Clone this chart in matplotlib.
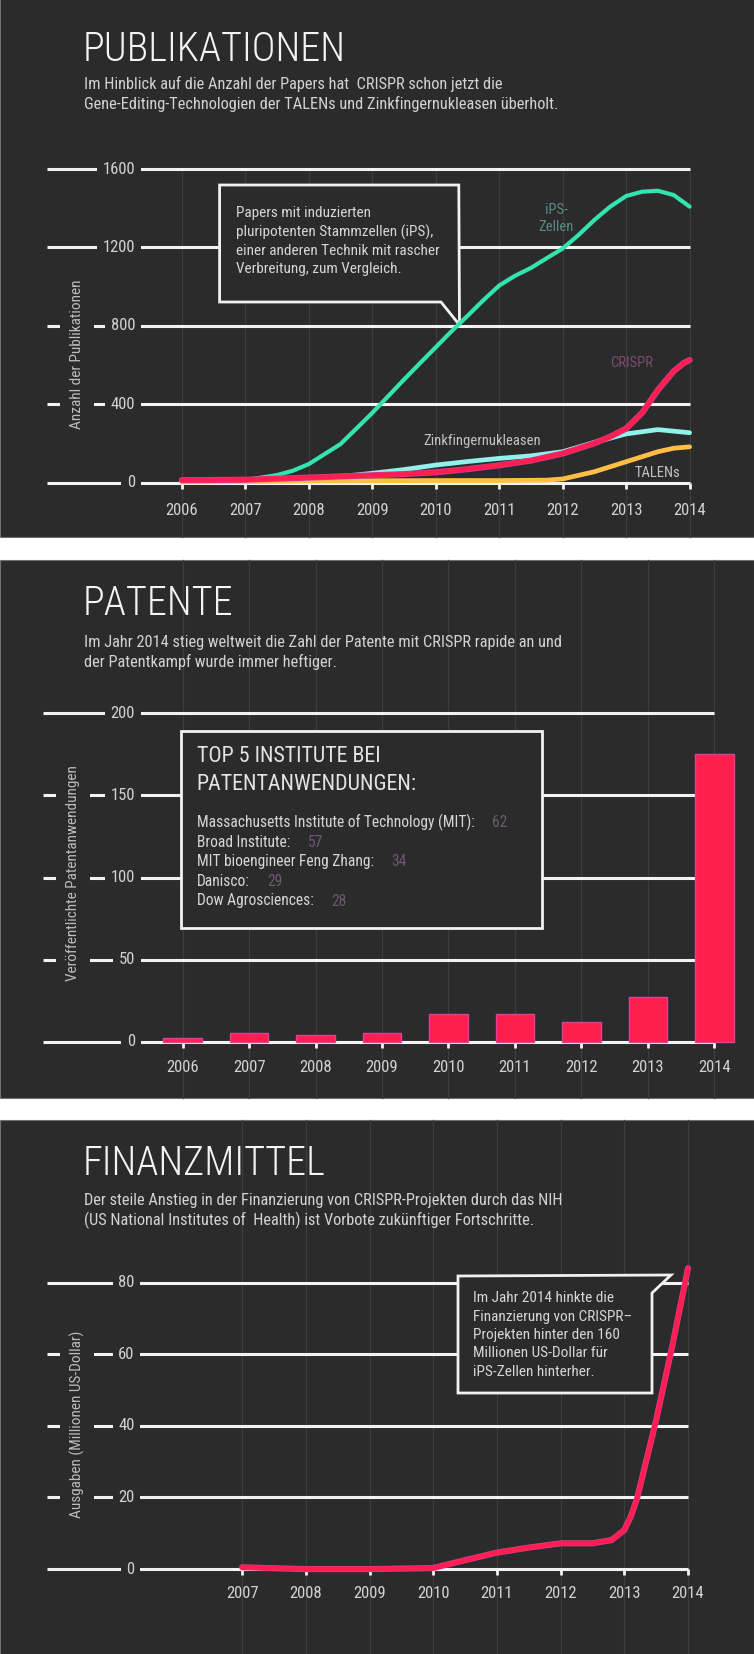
import matplotlib
matplotlib.use("Agg")
import matplotlib.pyplot as plt
from matplotlib.patches import Rectangle, Polygon
from matplotlib import font_manager

# ---- data ----
pub_ips_years = [2006, 2007, 2007.5, 2007.75, 2008, 2008.5, 2008.75, 2009, 2009.25, 2009.5,
                 2009.75, 2010, 2010.25, 2010.5, 2010.75, 2011, 2011.25, 2011.5, 2011.75,
                 2012, 2012.25, 2012.5, 2012.75, 2013, 2013.25, 2013.5, 2013.75, 2014]
pub_ips = [5, 12, 38, 60, 94, 196, 275, 355, 440, 525,
           608, 690, 772, 850, 930, 1005, 1055, 1095, 1145,
           1194, 1263, 1340, 1408, 1462, 1484, 1489, 1467, 1408]

pub_zink_years = [2006, 2007, 2008, 2008.5, 2009, 2009.5, 2010, 2010.5, 2011, 2011.5,
                  2012, 2012.5, 2013, 2013.5, 2014]
pub_zink = [3, 6, 18, 30, 47, 66, 89, 107, 123, 136, 157, 205, 248, 270, 254]

pub_talen_years = [2006, 2007, 2008, 2009, 2010, 2011, 2011.75, 2012, 2012.5, 2013,
                   2013.5, 2013.75, 2014]
pub_talen = [3, 5, 8, 9, 10, 10, 12, 18, 55, 106, 157, 175, 182]

pub_crispr_years = [2006, 2007, 2008, 2009, 2009.5, 2010, 2010.5, 2011, 2011.5, 2012,
                    2012.5, 2012.75, 2013, 2013.25, 2013.5, 2013.75, 2013.9, 2014]
pub_crispr = [12, 14, 25, 37, 43, 52, 68, 88, 112, 148, 200, 234, 275, 355, 472, 568, 608, 625]

pat_years = [2006, 2007, 2008, 2009, 2010, 2011, 2012, 2013, 2014]
pat_counts = [2, 5, 4, 5, 17, 17, 12, 27, 175]

institutes = ["Massachusetts Institute of Technology (MIT):", "Broad Institute:",
              "MIT bioengineer Feng Zhang:", "Danisco:", "Dow Agrosciences:"]
inst_counts = [62, 57, 34, 29, 28]

fund_years = [2007, 2008, 2009, 2010, 2010.5, 2011, 2011.5, 2012, 2012.5, 2012.8,
              2013, 2013.1, 2013.2, 2013.3, 2013.5, 2013.75, 2014]
fund_musd = [0.5, 0, 0, 0.3, 2.5, 4.6, 6, 7.2, 7.2, 8.1, 10.9, 14.6, 19.7, 27, 41.6, 62, 84]

# ---- fonts ----
names = {f.name for f in font_manager.fontManager.ttflist}
cands = ["Roboto Condensed", "Liberation Sans Narrow", "Roboto"]
COND = next(n for n in cands if n in names)
plt.rcParams["font.family"] = [COND, "DejaVu Sans"]
TITLE_FAMILY = [n for n in ["Roboto Condensed Light"] if n in names] + [COND, "DejaVu Sans"]

W, H = 754, 1654
BG = "#2b2b2b"
GRID = "#f2f2f2"
VLINE = "#3d3d3d"
TXT = "#d2d2d2"
RED = "#ff1f4f"

fig = plt.figure(figsize=(W / 100, H / 100), dpi=100, facecolor="white")


def fxy(x, y):
    return x / W, 1 - y / H


def ftext(x, y, s, **kw):
    return fig.text(x / W, 1 - y / H, s, **kw)


def panel(top, bottom):
    fig.patches.append(Rectangle(fxy(0, bottom), 1, (bottom - top) / H,
                                 transform=fig.transFigure, facecolor=BG,
                                 edgecolor="#707070", lw=0.8, zorder=-5))


def chart(box, xlim, ylim, yticks, years, ylabel, ylab_xy, lab_right, xpad, vspan):
    x0, y0, x1, y1 = box
    ax = fig.add_axes([x0 / W, 1 - y1 / H, (x1 - x0) / W, (y1 - y0) / H])
    ax.set_xlim(xlim)
    ax.set_ylim(ylim)
    ax.patch.set_visible(False)
    for s in ax.spines.values():
        s.set_visible(False)
    ax.set_yticks([])
    fx = lambda px: (px - x0) / (x1 - x0)
    fy = lambda py: (y1 - py) / (y1 - y0)
    for v in yticks:
        ax.axhline(v, color=GRID, lw=2.2, zorder=1, clip_on=False, solid_capstyle="butt")
        ax.text(fx(lab_right), v, str(v), transform=ax.get_yaxis_transform(),
                ha="right", va="center", color=TXT, fontsize=12,
                bbox=dict(fc=BG, ec="none", pad=4), zorder=2)
    ax.text(fx(ylab_xy[0]), fy(ylab_xy[1]), ylabel, transform=ax.transAxes,
            rotation=90, ha="center", va="center", color="#bdbdbd", fontsize=11,
            bbox=dict(fc=BG, ec="none", pad=7), zorder=2)
    for yr in years:
        ax.axvline(yr, ymin=fy(vspan[1]), ymax=fy(vspan[0]), color=VLINE, lw=0.9,
                   zorder=0.5, clip_on=False)
    ax.set_xticks(years)
    ax.set_xticklabels([str(y) for y in years])
    ax.tick_params(axis="x", length=4.5, width=2, color=GRID, labelcolor=TXT,
                   labelsize=12, pad=xpad)
    return ax, fx, fy


def header(title, sub, base, sub_y):
    ftext(83, base, title, fontsize=29, color="#f4f4f4", family=TITLE_FAMILY,
          fontweight="light", va="baseline")
    for line, yy in zip(sub, sub_y):
        ftext(84, yy, line, fontsize=11.8, color=TXT, va="center")


def curve(ax, xs, ys, color, lw, z, halo=None):
    if halo:
        ax.plot(xs, ys, color=halo, lw=lw + 1, zorder=z - 0.05, clip_on=False,
                solid_capstyle="round", solid_joinstyle="round")
    ax.plot(xs, ys, color=color, lw=lw, zorder=z, clip_on=False,
            solid_capstyle="round", solid_joinstyle="round")


# ================= PANEL 1: PUBLIKATIONEN =================
panel(-2, 537)
header("PUBLIKATIONEN",
       ["Im Hinblick auf die Anzahl der Papers hat  CRISPR schon jetzt die",
        "Gene-Editing-Technologien der TALENs und Zinkfingernukleasen überholt."],
       61, [84, 104])
ax1, fx1, fy1 = chart((47, 169, 689.6, 482.5), (2003.876, 2014), (0, 1600),
                      [0, 400, 800, 1200, 1600], list(range(2006, 2015)),
                      "Anzahl der Publikationen", (77, 354), 135, 10, (169, 537))

curve(ax1, pub_ips_years, pub_ips, "#34e3b0", 3.0, 3)
curve(ax1, pub_zink_years, pub_zink, "#90f2ea", 3.4, 3.2)
curve(ax1, pub_talen_years, pub_talen, "#ffbf45", 3.4, 3.4)
curve(ax1, pub_crispr_years, pub_crispr, RED, 3.4, 3.9, halo="#d83a9a")

ax1.text(2011.9, 1347, "iPS-\nZellen", color="#5a8a84", fontsize=10.5, ha="center",
         va="center", linespacing=1.25, zorder=5)
ax1.text(2013.08, 610, "CRISPR", color="#7b4a6c", fontsize=10.5, ha="center", va="center", zorder=5)
ax1.text(2010.73, 212, "Zinkfingernukleasen", color="#c4c4c4", fontsize=10.5, ha="center",
         va="center", zorder=5)
ax1.text(2013.49, 49, "TALENs", color="#c4c4c4", fontsize=10.5, ha="center", va="center", zorder=5)

call1 = [(219.6, 185), (458.8, 185), (459.5, 325), (441, 302), (219.6, 302)]
ax1.add_patch(Polygon([(fx1(x), fy1(y)) for x, y in call1], closed=True, transform=ax1.transAxes,
                      facecolor=BG, edgecolor=GRID, lw=2, zorder=2.5, clip_on=False))
for line, yy in zip(["Papers mit induzierten", "pluripotenten Stammzellen (iPS),",
                     "einer anderen Technik mit rascher", "Verbreitung, zum Vergleich."],
                    [213, 232, 251, 269]):
    ftext(236.5, yy, line, fontsize=11, color="#d6d6d6", va="center")

# ================= PANEL 2: PATENTE =================
panel(560, 1098)
header("PATENTE",
       ["Im Jahr 2014 stieg weltweit die Zahl der Patente mit CRISPR rapide an und",
        "der Patentkampf wurde immer heftiger."],
       615, [642, 662])
ax2, fx2, fy2 = chart((43, 713.4, 714.3, 1041.7), (2003.898, 2014), (0, 200),
                      [0, 50, 100, 150, 200], pat_years,
                      "Veröffentlichte Patentanwendungen", (73, 873), 135, 9, (560, 1098))
ax2.bar(pat_years, pat_counts, width=0.58, color=RED, edgecolor="#e0409a", lw=1,
        zorder=3, clip_on=False)

ax2.add_patch(Rectangle((fx2(181), fy2(928)), fx2(542) - fx2(181), fy2(731) - fy2(928),
                        transform=ax2.transAxes, facecolor=BG, edgecolor=GRID, lw=2,
                        zorder=2.5, clip_on=False))
ftext(196.5, 757, "TOP 5 INSTITUTE BEI", fontsize=15.8, color="#e4e4e4", va="center")
ftext(196.5, 784.6, "PATENTANWENDUNGEN:", fontsize=15.8, color="#e4e4e4", va="center")
renderer = fig.canvas.get_renderer()
for name, cnt, yy in zip(institutes, inst_counts, [822.7, 842.3, 861.7, 881.7, 901]):
    t = ftext(196.5, yy, name, fontsize=11.2, color="#d6d6d6", va="center")
    ext = t.get_window_extent(renderer)
    ftext(ext.x1 + 18, yy, str(cnt), fontsize=11.2, color="#6d5870", va="center")

# ================= PANEL 3: FINANZMITTEL =================
panel(1120, 1660)
header("FINANZMITTEL",
       ["Der steile Anstieg in der Finanzierung von CRISPR-Projekten durch das NIH",
        "(US National Institutes of  Health) ist Vorbote zukünftiger Fortschritte."],
       1175, [1200, 1220])
ax3, fx3, fy3 = chart((46.6, 1282.5, 688, 1569.1), (2003.929, 2014), (0, 80),
                      [0, 20, 40, 60, 80], list(range(2007, 2015)),
                      "Ausgaben (Millionen US-Dollar)", (77, 1424), 134.6, 8, (1120, 1654))
curve(ax3, fund_years, fund_musd, RED, 3.4, 3.9, halo="#d83a9a")

call3 = [(458, 1276), (671, 1275), (652, 1293), (652, 1393), (458, 1393)]
ax3.add_patch(Polygon([(fx3(x), fy3(y)) for x, y in call3], closed=True, transform=ax3.transAxes,
                      facecolor=BG, edgecolor=GRID, lw=2, zorder=2.5, clip_on=False))
for line, yy in zip(["Im Jahr 2014 hinkte die", "Finanzierung von CRISPR–",
                     "Projekten hinter den 160", "Millionen US-Dollar für",
                     "iPS-Zellen hinterher."],
                    [1298.3, 1316.7, 1335, 1353.3, 1372.3]):
    ftext(472.8, yy, line, fontsize=11, color="#d6d6d6", va="center")

fig.savefig("out.png", dpi=100, facecolor="white")
